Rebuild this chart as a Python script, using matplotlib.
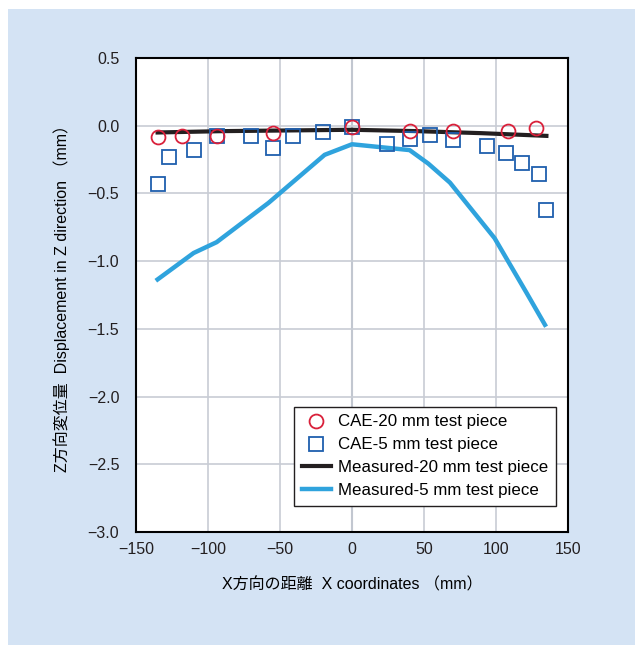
import matplotlib
matplotlib.use("Agg")
import matplotlib.pyplot as plt
from matplotlib.patches import Rectangle

plt.rcParams['font.family'] = ['Liberation Sans', 'Noto Sans CJK JP']
plt.rcParams['axes.unicode_minus'] = True

# CAE 20 mm (circulos rojos)
x_cae20 = [-135, -118, -94, -55, 0, 40, 70, 108, 128]
y_cae20 = [-0.08, -0.076, -0.076, -0.057, -0.01, -0.037, -0.037, -0.037, -0.02]

# CAE 5 mm (cuadrados azules)
x_cae5 = [-135, -127, -110, -94, -70, -55, -41, -20, 0, 24, 40, 54, 70, 94, 107, 118, 130, 135]
y_cae5 = [-0.43, -0.23, -0.18, -0.076, -0.076, -0.167, -0.079, -0.044, -0.01,
          -0.132, -0.10, -0.066, -0.105, -0.152, -0.204, -0.272, -0.358, -0.625]

# medido 20 mm
x_med20 = [-135, -90, -45, 0, 45, 90, 135]
y_med20 = [-0.05, -0.04, -0.035, -0.03, -0.04, -0.055, -0.075]

# medido 5 mm
x_med5 = [-135, -110, -94, -58, -19, 0, 40, 53, 68, 99, 121, 134]
y_med5 = [-1.135, -0.94, -0.86, -0.57, -0.215, -0.137, -0.18, -0.28, -0.42, -0.83, -1.23, -1.47]

xticks = [-150, -100, -50, 0, 50, 100, 150]
yticks = [0.5, 0.0, -0.5, -1.0, -1.5, -2.0, -2.5, -3.0]

fig = plt.figure(figsize=(6.35, 6.45), dpi=100)
fig.patch.set_facecolor("white")
# fondo celeste
fig.patches.append(Rectangle((8/635, 0), 1 - 8/635, 1 - 9/645, transform=fig.transFigure,
                             facecolor="#d4e3f4", edgecolor="none", zorder=-10))

ax = fig.add_axes([136/635, 1 - 532/645, 432/635, 474/645])
ax.set_facecolor("white")

ax.plot(x_med20, y_med20, color="#231f20", lw=3, label="Measured-20 mm test piece", zorder=3)
ax.plot(x_med5, y_med5, color="#2fa3dd", lw=3.2, label="Measured-5 mm test piece", zorder=3)
ax.plot(x_cae5, y_cae5, ls="none", marker="s", ms=10, mfc="none", mec="#1f5fae", mew=1.3,
        label="CAE-5 mm test piece", zorder=4)
ax.plot(x_cae20, y_cae20, ls="none", marker="o", ms=10, mfc="none", mec="#d9203a", mew=1.3,
        label="CAE-20 mm test piece", zorder=5)

ax.set_xlim(-150, 150)
ax.set_ylim(-3.0, 0.5)
ax.set_xticks(xticks)
ax.set_yticks(yticks)
ax.set_yticklabels([f"{v:.1f}".replace("-", "\u2212") for v in yticks])
ax.tick_params(length=0, labelsize=11.5, colors="#231f20")
ax.tick_params(axis="y", pad=12)
ax.tick_params(axis="x", pad=7)
ax.grid(True, color="#c8ccd4", lw=1.2, zorder=0)
ax.axvline(0, color="#a9afbd", lw=1.5, zorder=1)
for s in ax.spines.values():
    s.set_color("black")
    s.set_linewidth(1.5)

ax.set_xlabel("X方向の距離  X coordinates （mm）", fontsize=11.5, labelpad=15)
ax.set_ylabel("Z方向変位量  Displacement in Z direction （mm）", fontsize=11.5, labelpad=13)

h, l = ax.get_legend_handles_labels()
orden = [3, 2, 0, 1]
leg = ax.legend([h[i] for i in orden], [l[i] for i in orden], loc="upper left",
                bbox_to_anchor=(0.366, 0.264), fontsize=12.2, frameon=True, fancybox=False,
                edgecolor="#231f20", framealpha=1, borderpad=0.45, labelspacing=0.47,
                handlelength=1.7, handletextpad=0.45, borderaxespad=0)
leg.get_frame().set_linewidth(1.0)

plt.savefig("out.png", dpi=100)
